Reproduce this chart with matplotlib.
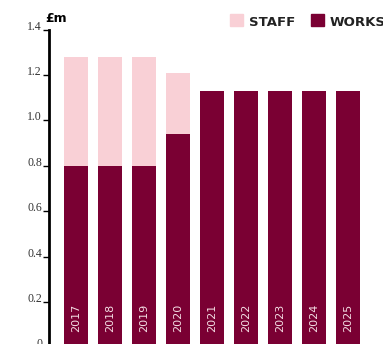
import numpy as np
import matplotlib
matplotlib.use("Agg")
import matplotlib.pyplot as plt
from matplotlib.patches import Rectangle

years = ["2017", "2018", "2019", "2020", "2021", "2022", "2023", "2024", "2025"]
works = [0.80, 0.80, 0.80, 0.94, 1.13, 1.13, 1.13, 1.13, 1.13]
staff = [0.48, 0.48, 0.48, 0.27, 0.0, 0.0, 0.0, 0.0, 0.0]
yticks = [0, 0.2, 0.4, 0.6, 0.8, 1.0, 1.2, 1.4]
ytick_labels = ["0", "0.2", "0.4", "0.6", "0.8", "1.0", "1.2", "1.4"]

works_color = "#7a0033"
staff_color = "#f9d0d6"

W, H = 383, 344
fig = plt.figure(figsize=(W / 100, H / 100), dpi=100)
# axes placed in pixel terms: left spine at x=49, 1.4 at y=30, 0 just below the frame
ax = fig.add_axes([49 / W, (H - 347.4) / H, (W - 49) / W, 317.8 / H])
ax.patch.set_alpha(0)

x = np.arange(len(years))
ax.bar(x, works, width=0.706, color=works_color, zorder=2)
ax.bar(x, staff, width=0.706, bottom=works, color=staff_color, zorder=2)

for xi, yr in zip(x, years):
    ax.annotate(yr, xy=(xi, 0), xytext=(0, 11), textcoords="offset points",
                rotation=90, ha="center", va="bottom", color="#f3dde3",
                fontsize=8, family="DejaVu Sans")

ax.set_xlim(-0.794, (W - 76) / 34)
ax.set_ylim(0, 1.4)
ax.set_yticks(yticks)
ax.set_yticklabels(ytick_labels, family="Liberation Serif", fontsize=8.5, color="#333333")
for lab in ax.get_yticklabels():
    lab.set_va("baseline")
ax.tick_params(axis="y", length=4, width=1, pad=1, color="black")
ax.set_xticks([])
for s in ["top", "right", "bottom"]:
    ax.spines[s].set_visible(False)
ax.spines["left"].set_linewidth(2)
ax.spines["left"].set_color("black")

fig.text(45 / W, 1 - 22 / H, "£m", fontsize=9, fontweight="bold", family="DejaVu Sans",
         va="baseline", ha="left")

# legend (runs off the right edge like the original)
fig.patches.append(Rectangle((230 / W, 1 - 26 / H), 13 / W, 12 / H,
                             transform=fig.transFigure, color=staff_color))
fig.text(249 / W, 1 - 26 / H, "STAFF", fontsize=9.5, fontweight="bold",
         family="DejaVu Sans", va="baseline", color="#222222")
fig.patches.append(Rectangle((311 / W, 1 - 26 / H), 13 / W, 12 / H,
                             transform=fig.transFigure, color=works_color))
fig.text(330 / W, 1 - 26 / H, "WORKS", fontsize=9.5, fontweight="bold",
         family="DejaVu Sans", va="baseline", color="#222222")

fig.savefig("out.png", dpi=100)
